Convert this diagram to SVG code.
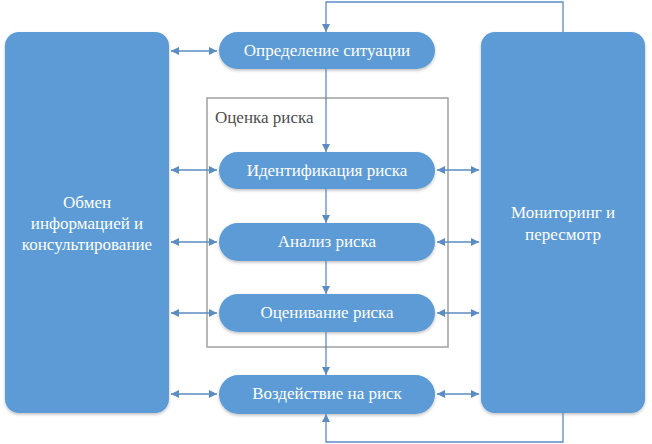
<svg xmlns="http://www.w3.org/2000/svg" width="652" height="444" viewBox="0 0 652 444">
<style>
.blk{fill:#5B9BD5}
.pill{fill:#5B9BD5;filter:url(#sh)}
.t{font-size:17px;fill:#fff;text-anchor:middle}
.lbl{font-size:17px;fill:#4d4d4d}
.c{stroke:#5B8CC2;stroke-width:1.3;fill:none}
.frame{fill:none;stroke:#A0A0A0;stroke-width:1.5}
</style>
<defs>
<filter id="sh" x="-10%" y="-20%" width="120%" height="150%">
<feDropShadow dx="0" dy="1.5" stdDeviation="1.5" flood-color="#000" flood-opacity="0.25"/>
</filter>
<marker id="ah" viewBox="0 0 10 10" refX="10" refY="5" markerWidth="8" markerHeight="8" markerUnits="userSpaceOnUse" orient="auto-start-reverse">
<path d="M0,0 L10,5 L0,10 z" fill="#5B8CC2"/>
</marker>
</defs>
<g font-family="Liberation Serif, DejaVu Serif, serif">
<g id="frame-ocenka">
<rect class="frame" x="207" y="98" width="241" height="249"/>
<text class="lbl" x="215" y="123">Оценка риска</text>
</g>
<g id="node-obmen">
<rect class="blk" x="5" y="32" width="164" height="381" rx="14" filter="url(#sh)"/>
<text class="t" x="87" y="208">Обмен</text>
<text class="t" x="87" y="229">информацией и</text>
<text class="t" x="87" y="250">консультирование</text>
</g>
<g id="node-monitoring">
<rect class="blk" x="481" y="32" width="164" height="381" rx="14" filter="url(#sh)"/>
<text class="t" x="563" y="218">Мониторинг и</text>
<text class="t" x="563" y="240">пересмотр</text>
</g>
<g id="node-opredelenie">
<rect class="pill" x="219" y="32" width="216" height="37" rx="18.5"/>
<text class="t" x="327" y="56">Определение ситуации</text>
</g>
<g id="node-identifikaciya">
<rect class="pill" x="219" y="152" width="216" height="37" rx="18.5"/>
<text class="t" x="327" y="176">Идентификация риска</text>
</g>
<g id="node-analiz">
<rect class="pill" x="219" y="223" width="216" height="38" rx="19"/>
<text class="t" x="327" y="247">Анализ риска</text>
</g>
<g id="node-ocenivanie">
<rect class="pill" x="219" y="294" width="216" height="38" rx="19"/>
<text class="t" x="327" y="318">Оценивание риска</text>
</g>
<g id="node-vozdeystvie">
<rect class="pill" x="219" y="375" width="216" height="39" rx="19.5"/>
<text class="t" x="327" y="399">Воздействие на риск</text>
</g>
</g>
<g id="connectors">
<path class="c" d="M326,69 V152" marker-end="url(#ah)"/>
<path class="c" d="M326,189 V223" marker-end="url(#ah)"/>
<path class="c" d="M326,261 V294" marker-end="url(#ah)"/>
<path class="c" d="M326,332 V375" marker-end="url(#ah)"/>
<path class="c" d="M563,32 V2 H326 V32" marker-end="url(#ah)"/>
<path class="c" d="M563,413 V442 H326 V414" marker-end="url(#ah)"/>
<path class="c" d="M171,51 H217" marker-start="url(#ah)" marker-end="url(#ah)"/>
<path class="c" d="M171,170 H217" marker-start="url(#ah)" marker-end="url(#ah)"/>
<path class="c" d="M171,242 H217" marker-start="url(#ah)" marker-end="url(#ah)"/>
<path class="c" d="M171,313 H217" marker-start="url(#ah)" marker-end="url(#ah)"/>
<path class="c" d="M171,394 H217" marker-start="url(#ah)" marker-end="url(#ah)"/>
<path class="c" d="M437,170 H479" marker-start="url(#ah)" marker-end="url(#ah)"/>
<path class="c" d="M437,242 H479" marker-start="url(#ah)" marker-end="url(#ah)"/>
<path class="c" d="M437,313 H479" marker-start="url(#ah)" marker-end="url(#ah)"/>
<path class="c" d="M437,394 H479" marker-start="url(#ah)" marker-end="url(#ah)"/>
</g>
</svg>
